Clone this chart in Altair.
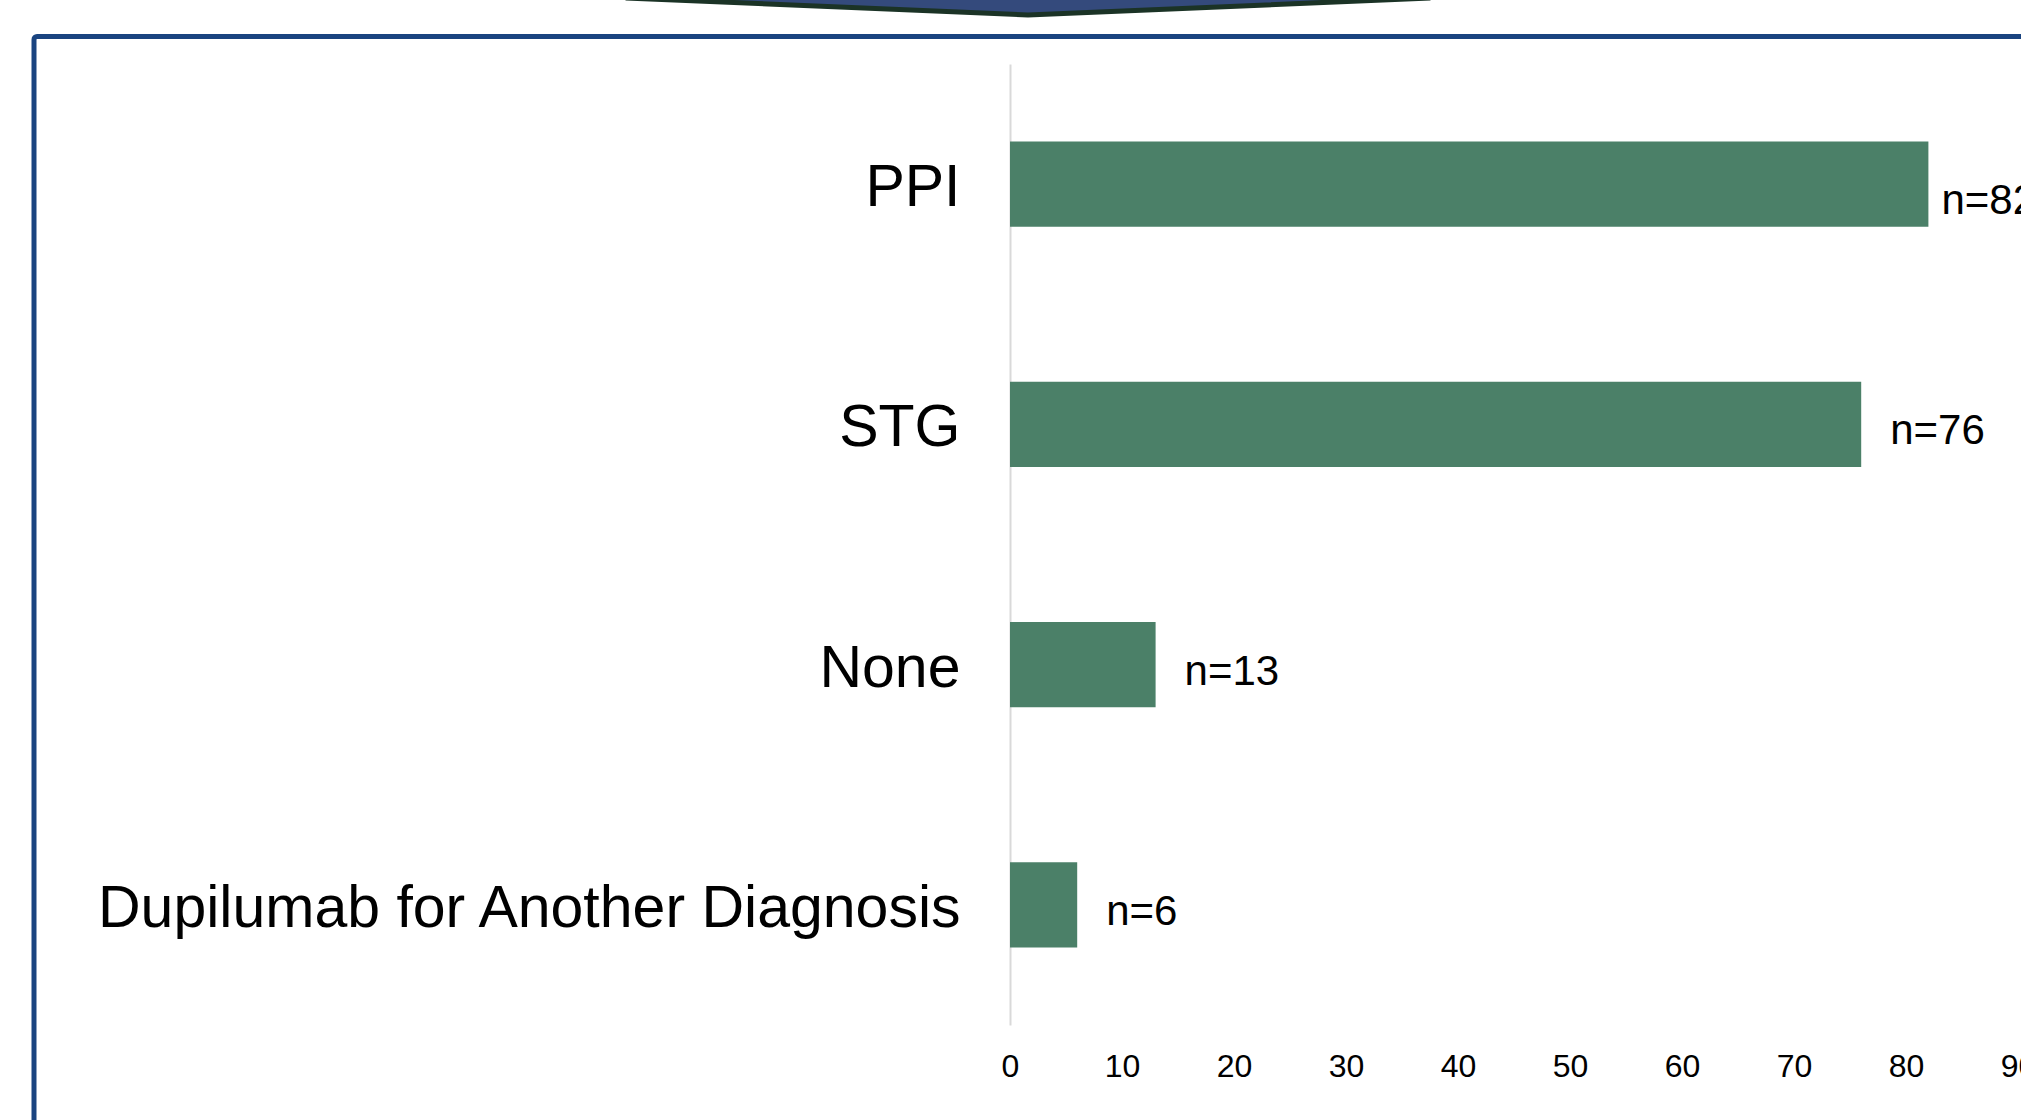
import altair as alt
import pandas as pd

# Concomitant therapy counts
categories = ["PPI", "STG", "None", "Dupilumab for Another Diagnosis"]
counts = [82, 76, 13, 6]
labels = ["n=82", "n=76", "n=13", "n=6"]
x_ticks = [0, 10, 20, 30, 40, 50, 60, 70, 80, 90]

df = pd.DataFrame({"therapy": categories, "count": counts, "label": labels})
one = pd.DataFrame({"k": [0]})

BAR = "#4B8068"
FRAME = "#1A4480"
FONT = "Liberation Sans"

y_enc = alt.Y(
    "therapy:N",
    sort=categories,
    title=None,
    scale=alt.Scale(paddingInner=0.646, paddingOuter=0.323),
    axis=alt.Axis(
        labelFont=FONT, labelFontSize=59, labelColor="#000000",
        labelPadding=50, labelLimit=2000, labelOffset=4,
        ticks=False, grid=False,
        domain=True, domainColor="#D9D9D9", domainWidth=2,
    ),
)
x_enc = alt.X(
    "count:Q",
    title=None,
    scale=alt.Scale(domain=[0, 90], nice=False, zero=True),
    axis=alt.Axis(
        values=x_ticks, labelFont=FONT, labelFontSize=32, labelColor="#000000",
        labelPadding=26, labelFlush=False, labelOverlap=False,
        ticks=False, grid=False, domain=False,
    ),
)

# slide frame around the chart
frame = alt.Chart(one).mark_rect(
    fillOpacity=0, stroke=FRAME, strokeWidth=5, cornerRadius=3,
).encode(
    x=alt.value(-976), x2=alt.value(1200),
    y=alt.value(-27.5), y2=alt.value(1300),
)

bars = alt.Chart(df).mark_bar(color=BAR).encode(y=y_enc, x=x_enc)

text_style = dict(font=FONT, fontSize=42, color="#000000", align="left", baseline="middle")
bar_labels = alt.Chart(df).transform_filter(
    alt.datum.therapy != "PPI"
).mark_text(dx=29, dy=7, **text_style).encode(
    y=alt.Y("therapy:N", sort=categories), x="count:Q", text="label:N"
)
ppi_label = alt.Chart(df).transform_filter(
    alt.datum.therapy == "PPI"
).mark_text(dx=13, dy=17, **text_style).encode(
    y=alt.Y("therapy:N", sort=categories), x="count:Q", text="label:N"
)

# chevron at the top of the slide
arrow = alt.Chart(one).mark_point(
    shape="M -400 -120 L 400 -120 L 400 -17 L 0 0 L -400 -17 Z",
    size=4, filled=True, fill="#344A7C", stroke="#1B3326",
    strokeWidth=5, opacity=1, fillOpacity=1, strokeOpacity=1,
).encode(x=alt.value(18), y=alt.value(-49))

chart = alt.layer(frame, bars, bar_labels, ppi_label, arrow).properties(
    width=1008,
    height=961,
    autosize=alt.AutoSizeParams(type="none"),
    padding={"left": 1010, "top": 64, "right": 3, "bottom": 95},
    background="#FFFFFF",
).configure_view(strokeWidth=0)

chart.save("out.html", embed_options={"renderer": "svg", "actions": False})
